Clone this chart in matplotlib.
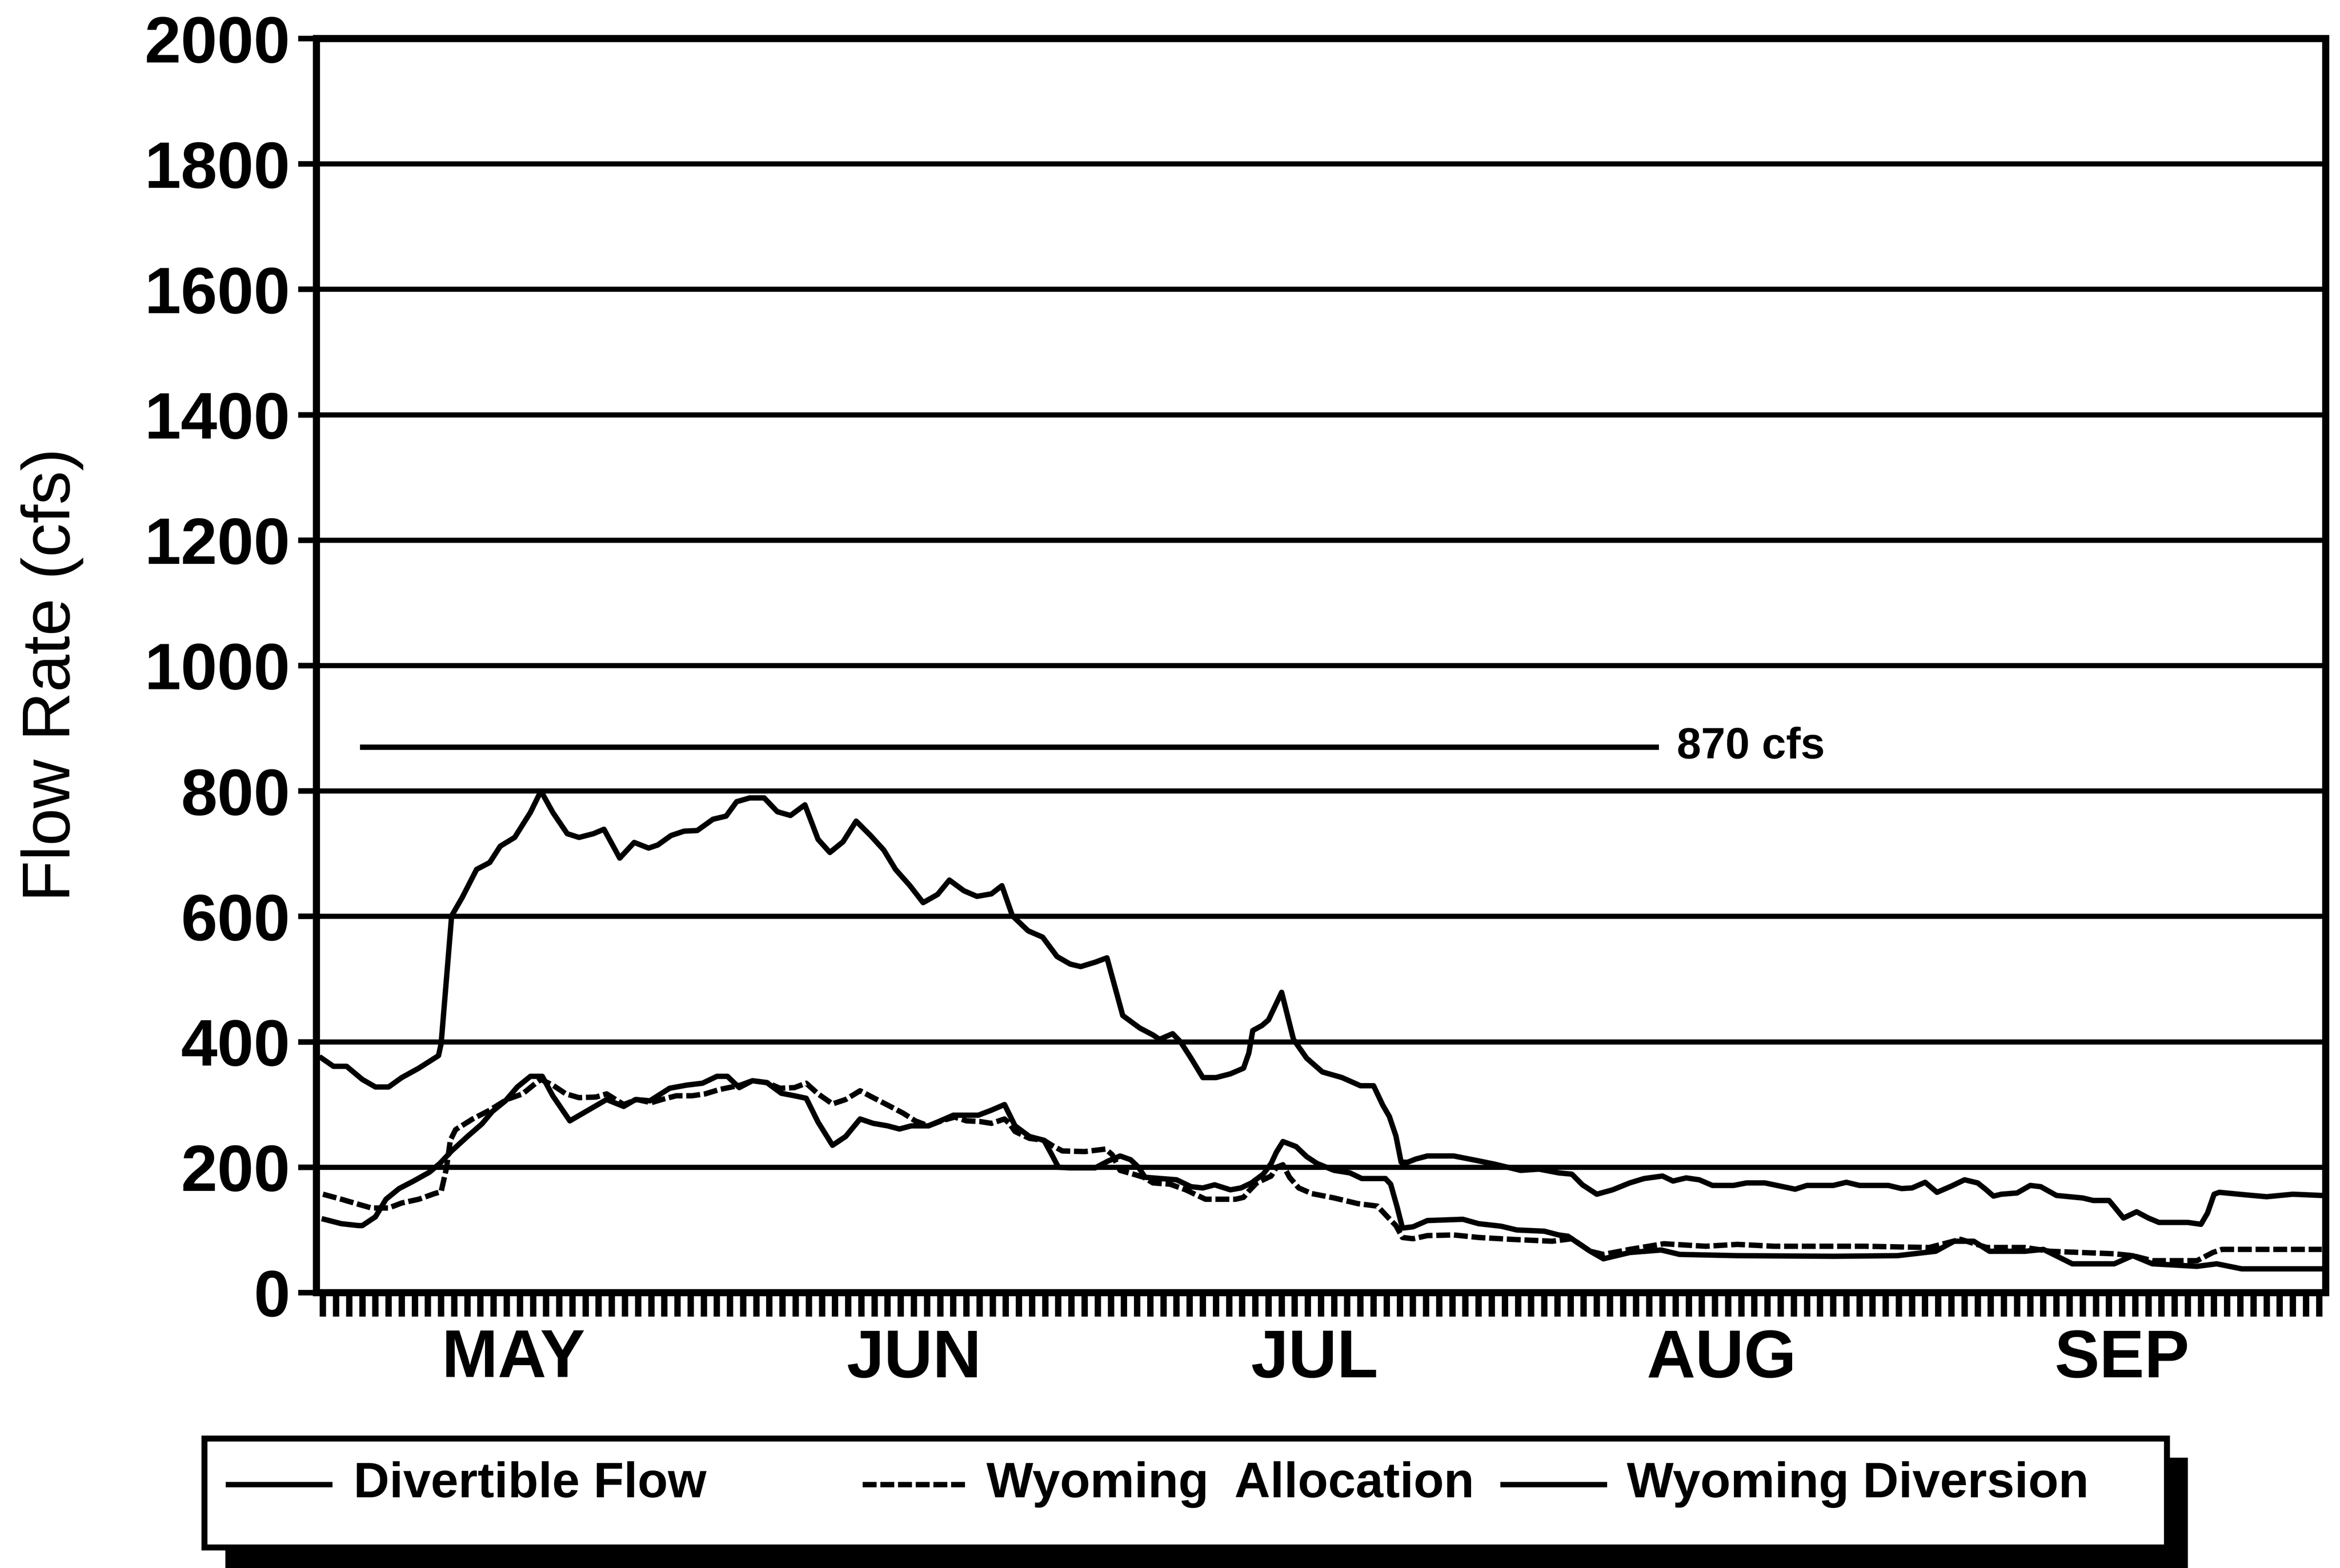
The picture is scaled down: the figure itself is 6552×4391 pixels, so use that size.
import matplotlib
matplotlib.use("Agg")
import matplotlib.pyplot as plt
from matplotlib import font_manager
from matplotlib.patches import Rectangle
import numpy as np

plt.rcParams['font.family'] = ['Liberation Sans', 'DejaVu Sans']

# ---- data (x = days from May 1, axis runs May 1 .. Sep 30) ----
month_names = ["MAY", "JUN", "JUL", "AUG", "SEP"]
month_days = [31, 30, 31, 31, 30]

div_x = [0.4, 1.3, 2.3, 3.5, 4.5, 5.5, 6.5, 7.8, 9.3, 9.5, 10.3, 11.1, 12.2, 13.2, 14.0,
         15.1, 16.3, 17.1, 18.0, 19.1, 20.0, 21.1, 21.9, 23.1, 24.2, 25.3, 26.0, 27.0,
         28.0, 29.0, 30.2, 31.2, 32.0, 33.0, 34.1, 35.1, 36.1, 37.2, 38.2, 39.1, 40.1,
         41.1, 42.2, 43.2, 44.1, 45.2, 46.2, 47.3, 48.2, 49.3, 50.3, 51.4, 52.2, 53.0,
         54.2, 55.3, 56.4, 57.4, 58.2, 59.3, 60.2, 61.4, 62.7, 63.7, 64.2, 65.2, 65.8,
         66.6, 67.5, 68.5, 69.6, 70.6, 71.0, 71.3, 72.0, 72.5, 73.0, 73.5, 74.4, 75.4,
         76.6, 78.1, 79.5, 80.5, 81.2, 81.7, 82.2, 82.6, 83.1, 83.7, 84.6, 86.6, 88.3,
         89.7, 91.7, 93.1, 94.6, 95.6, 96.4, 97.5, 98.7, 100.0, 101.1, 102.5, 103.3,
         104.3, 105.3, 106.3, 107.9, 108.9, 110.3, 111.9, 112.6, 113.5, 115.5, 116.5,
         117.5, 119.7, 120.7, 121.5, 122.5, 123.4, 124.5, 125.5, 126.5, 127.1, 127.7,
         128.3, 129.5, 130.5, 131.3, 132.5, 134.5, 135.3, 136.5, 136.9, 137.6, 138.6,
         139.5, 140.3, 142.5, 143.5, 144.0, 144.5, 144.9, 146.9, 148.5, 150.5, 152.7]
div_flow = [374, 361, 361, 340, 328, 328, 343, 358, 378, 397, 601, 630, 675, 686, 712,
            726, 766, 800, 766, 732, 726, 732, 739, 693, 718, 709, 714, 729,
            736, 737, 755, 760, 783, 789, 789, 767, 761, 778, 723, 702, 719,
            752, 729, 706, 675, 649, 622, 635, 658, 641, 632, 636, 649, 601,
            577, 567, 536, 524, 520, 527, 534, 442, 422, 411, 404, 413, 400,
            374, 343, 343, 349, 358, 382, 418, 426, 435, 457, 479, 404, 374,
            352, 343, 330, 330, 299, 281, 250, 208, 208, 213, 218, 218, 211,
            205, 195, 197, 191, 189, 172, 157, 164, 175, 182, 186, 178,
            183, 180, 171, 171, 175, 175, 168, 165, 171, 171, 176,
            171, 171, 166, 167, 176, 160, 170, 180, 175, 165, 154,
            157, 159, 171, 169, 155, 151, 147, 147, 137, 119, 129,
            119, 112, 112, 109, 127, 157, 160, 156, 153, 157, 155]

alloc_x = [0.5, 1.9, 3.2, 4.2, 5.5, 6.5, 7.8, 9.0, 9.5, 9.9, 10.2, 10.6, 11.9, 13.2,
           14.5, 15.7, 16.7, 17.1, 18.0, 19.0, 20.0, 21.3, 22.1, 23.4, 24.4, 25.5,
           26.3, 27.4, 28.6, 29.6, 30.7, 31.4, 32.3, 33.2, 34.3, 35.3, 36.4, 37.3,
           38.2, 39.3, 40.3, 41.4, 42.4, 43.7, 44.7, 45.6, 46.6, 47.6, 48.6, 49.5,
           50.5, 51.4, 52.4, 52.8, 53.2, 54.3, 55.4, 56.0, 56.8, 58.5, 60.1, 60.6,
           61.2, 62.2, 63.0, 63.7, 65.0, 66.2, 67.0, 67.7, 70.0, 70.6, 71.0, 71.6,
           72.7, 73.1, 73.6, 74.1, 74.8, 75.8, 77.5, 79.3, 80.8, 81.6, 82.2, 82.7,
           83.5, 84.6, 86.6, 88.5, 91.0, 94.1, 95.6, 97.0, 98.0, 100.0, 102.6, 105.8,
           108.2, 111.0, 117.9, 122.8, 125.2, 127.2, 130.1, 132.0, 136.9, 138.3,
           139.8, 143.2, 144.4, 145.1, 152.7]
wyo_alloc = [157, 149, 141, 135, 135, 143, 149, 158, 161, 198, 243, 260, 277, 291,
             308, 317, 334, 340, 331, 317, 311, 312, 317, 300, 308, 303,
             308, 314, 314, 317, 324, 327, 331, 338, 335, 326, 327, 334,
             317, 301, 308, 322, 311, 297, 286, 274, 266, 274, 280, 274,
             273, 270, 277, 269, 257, 246, 243, 235, 226, 225, 229, 220,
             195, 189, 184, 175, 173, 164, 156, 149, 149, 152, 162, 175,
             186, 200, 204, 184, 167, 158, 151, 142, 138, 120, 107, 88,
             86, 91, 92, 88, 85, 82, 86, 66, 61, 69, 78, 74,
             77, 74, 74, 72, 85, 72, 72, 66, 62, 59,
             51, 51, 64, 69, 69]

divn_x = [0.6, 1.9, 3.2, 3.5, 4.5, 5.3, 6.3, 7.4, 8.6, 9.4, 10.3, 11.5, 12.6, 13.4,
          14.4, 15.3, 16.3, 17.2, 18.0, 19.3, 20.7, 22.1, 23.4, 24.3, 25.4, 26.9,
          28.2, 29.4, 30.5, 31.3, 32.2, 33.2, 34.3, 35.4, 36.4, 37.3, 38.2, 39.3,
          40.3, 41.4, 42.4, 43.5, 44.4, 45.3, 46.6, 47.4, 48.5, 50.4, 51.4, 52.4,
          53.2, 54.3, 55.4, 56.0, 56.5, 57.4, 59.3, 60.3, 61.2, 62.0, 62.6, 63.1,
          64.3, 65.5, 66.6, 67.5, 68.4, 69.6, 70.4, 71.2, 72.1, 72.7, 73.1, 73.6,
          74.6, 75.4, 76.2, 77.5, 78.7, 79.6, 81.4, 81.8, 82.3, 82.7, 83.5, 84.6,
          87.3, 88.5, 90.2, 91.4, 93.5, 94.6, 95.3, 97.0, 98.0, 100.0, 102.4, 103.8,
          108.2, 115.5, 120.4, 123.3, 124.7, 126.2, 127.4, 130.1, 131.5, 133.7,
          136.9, 138.3, 139.8, 143.2, 144.7, 146.6, 152.7]
wyo_divn = [117, 110, 107, 107, 121, 149, 166, 178, 192, 206, 226, 249, 269, 289,
            306, 328, 345, 345, 314, 274, 291, 308, 297, 308, 306, 326,
            331, 334, 345, 345, 327, 338, 335, 318, 314, 310, 272, 235,
            249, 277, 270, 266, 261, 266, 266, 273, 283, 283, 291, 300,
            266, 249, 243, 220, 200, 199, 199, 210, 218, 212, 200, 184,
            182, 180, 169, 167, 172, 164, 167, 175, 189, 206, 224, 241,
            233, 217, 206, 195, 191, 182, 182, 173, 136, 103, 105, 115,
            117, 110, 106, 100, 98, 92, 90, 66, 54, 64, 68, 61,
            59, 58, 59, 66, 82, 82, 66, 66, 69, 46,
            46, 59, 46, 42, 46, 38, 38]

cap_value = 870
cap_days = [3.5, 102.0]
cap_label = "870 cfs"

# legend font: condensed face if present
try:
    font_manager.findfont(font_manager.FontProperties(family='Liberation Sans Narrow'),
                          fallback_to_default=False)
    leg_family, leg_size = 'Liberation Sans Narrow', 30
except ValueError:
    leg_family, leg_size = 'Liberation Sans', 25

fig = plt.figure(figsize=(16.38, 10.9775), dpi=400)
ax = fig.add_axes([0.1352, 0.1756, 0.9939 - 0.1352, 0.7998])

lw = 2.7
ax.plot(div_x, div_flow, color='black', lw=lw, solid_joinstyle='round', zorder=3)
ax.plot(alloc_x, wyo_alloc, color='black', lw=lw, dashes=(2.6, 0.7), zorder=3)
ax.plot(divn_x, wyo_divn, color='black', lw=lw, solid_joinstyle='round', zorder=3)

ax.plot(cap_days, [cap_value, cap_value], color='black', lw=lw, zorder=3)
ax.text(cap_days[1] + 1.6, cap_value, cap_label, fontsize=22, fontweight='bold',
        ha='left', va='center')

ax.set_xlim(0, sum(month_days))
ax.set_ylim(0, 2000)

# y axis
ax.set_yticks(np.arange(0, 2001, 200))
ax.yaxis.grid(True, color='black', lw=2.6)
ax.tick_params(axis='y', direction='out', length=9.2, width=2.8, pad=4,
               labelsize=33)
for t in ax.get_yticklabels():
    t.set_fontweight('bold')

# x axis: daily ticks, month names centred in each month
ax.xaxis.remove_overlapping_locs = False
ax.set_xticks(np.arange(sum(month_days)) + 0.5)
ax.tick_params(axis='x', which='major', direction='out', length=12, width=3.2,
               labelbottom=False)
starts = np.cumsum([0] + month_days[:-1])
ax.set_xticks(starts + (np.array(month_days) - 1) / 2.0, minor=True)
ax.set_xticklabels(month_names, minor=True, fontsize=34, fontweight='bold')
ax.tick_params(axis='x', which='minor', length=0, pad=18)

for s in ax.spines.values():
    s.set_linewidth(3.6)

fig.text(0.0223, 0.5696, "Flow Rate (cfs)", rotation=90, ha='center', va='center',
         fontsize=34)

# legend box with drop shadow (overlay in pixel-like units of the page)
lax = fig.add_axes([0, 0, 1, 1], zorder=5)
lax.set_xlim(0, 1568)
lax.set_ylim(1051, 0)
lax.axis('off')
lax.add_patch(Rectangle((151, 977), 1315, 80, facecolor='black', edgecolor='none'))
lax.add_patch(Rectangle((137, 964), 1315, 73, facecolor='white', edgecolor='black',
                        lw=3.0))
ly = 995
lax.plot([153, 221], [ly, ly], color='black', lw=lw)
lax.plot([578, 648], [ly, ly], color='black', lw=lw, dashes=(2.6, 0.7))
lax.plot([1007, 1075], [ly, ly], color='black', lw=lw)
for x0, lab in [(237, "Divertible Flow"), (661, "Wyoming  Allocation"),
                (1090, "Wyoming Diversion")]:
    lax.text(x0, ly, lab, family=[leg_family, 'Liberation Sans'], fontsize=leg_size,
             fontweight='bold', ha='left', va='center')

fig.savefig("out.png", dpi=400)
